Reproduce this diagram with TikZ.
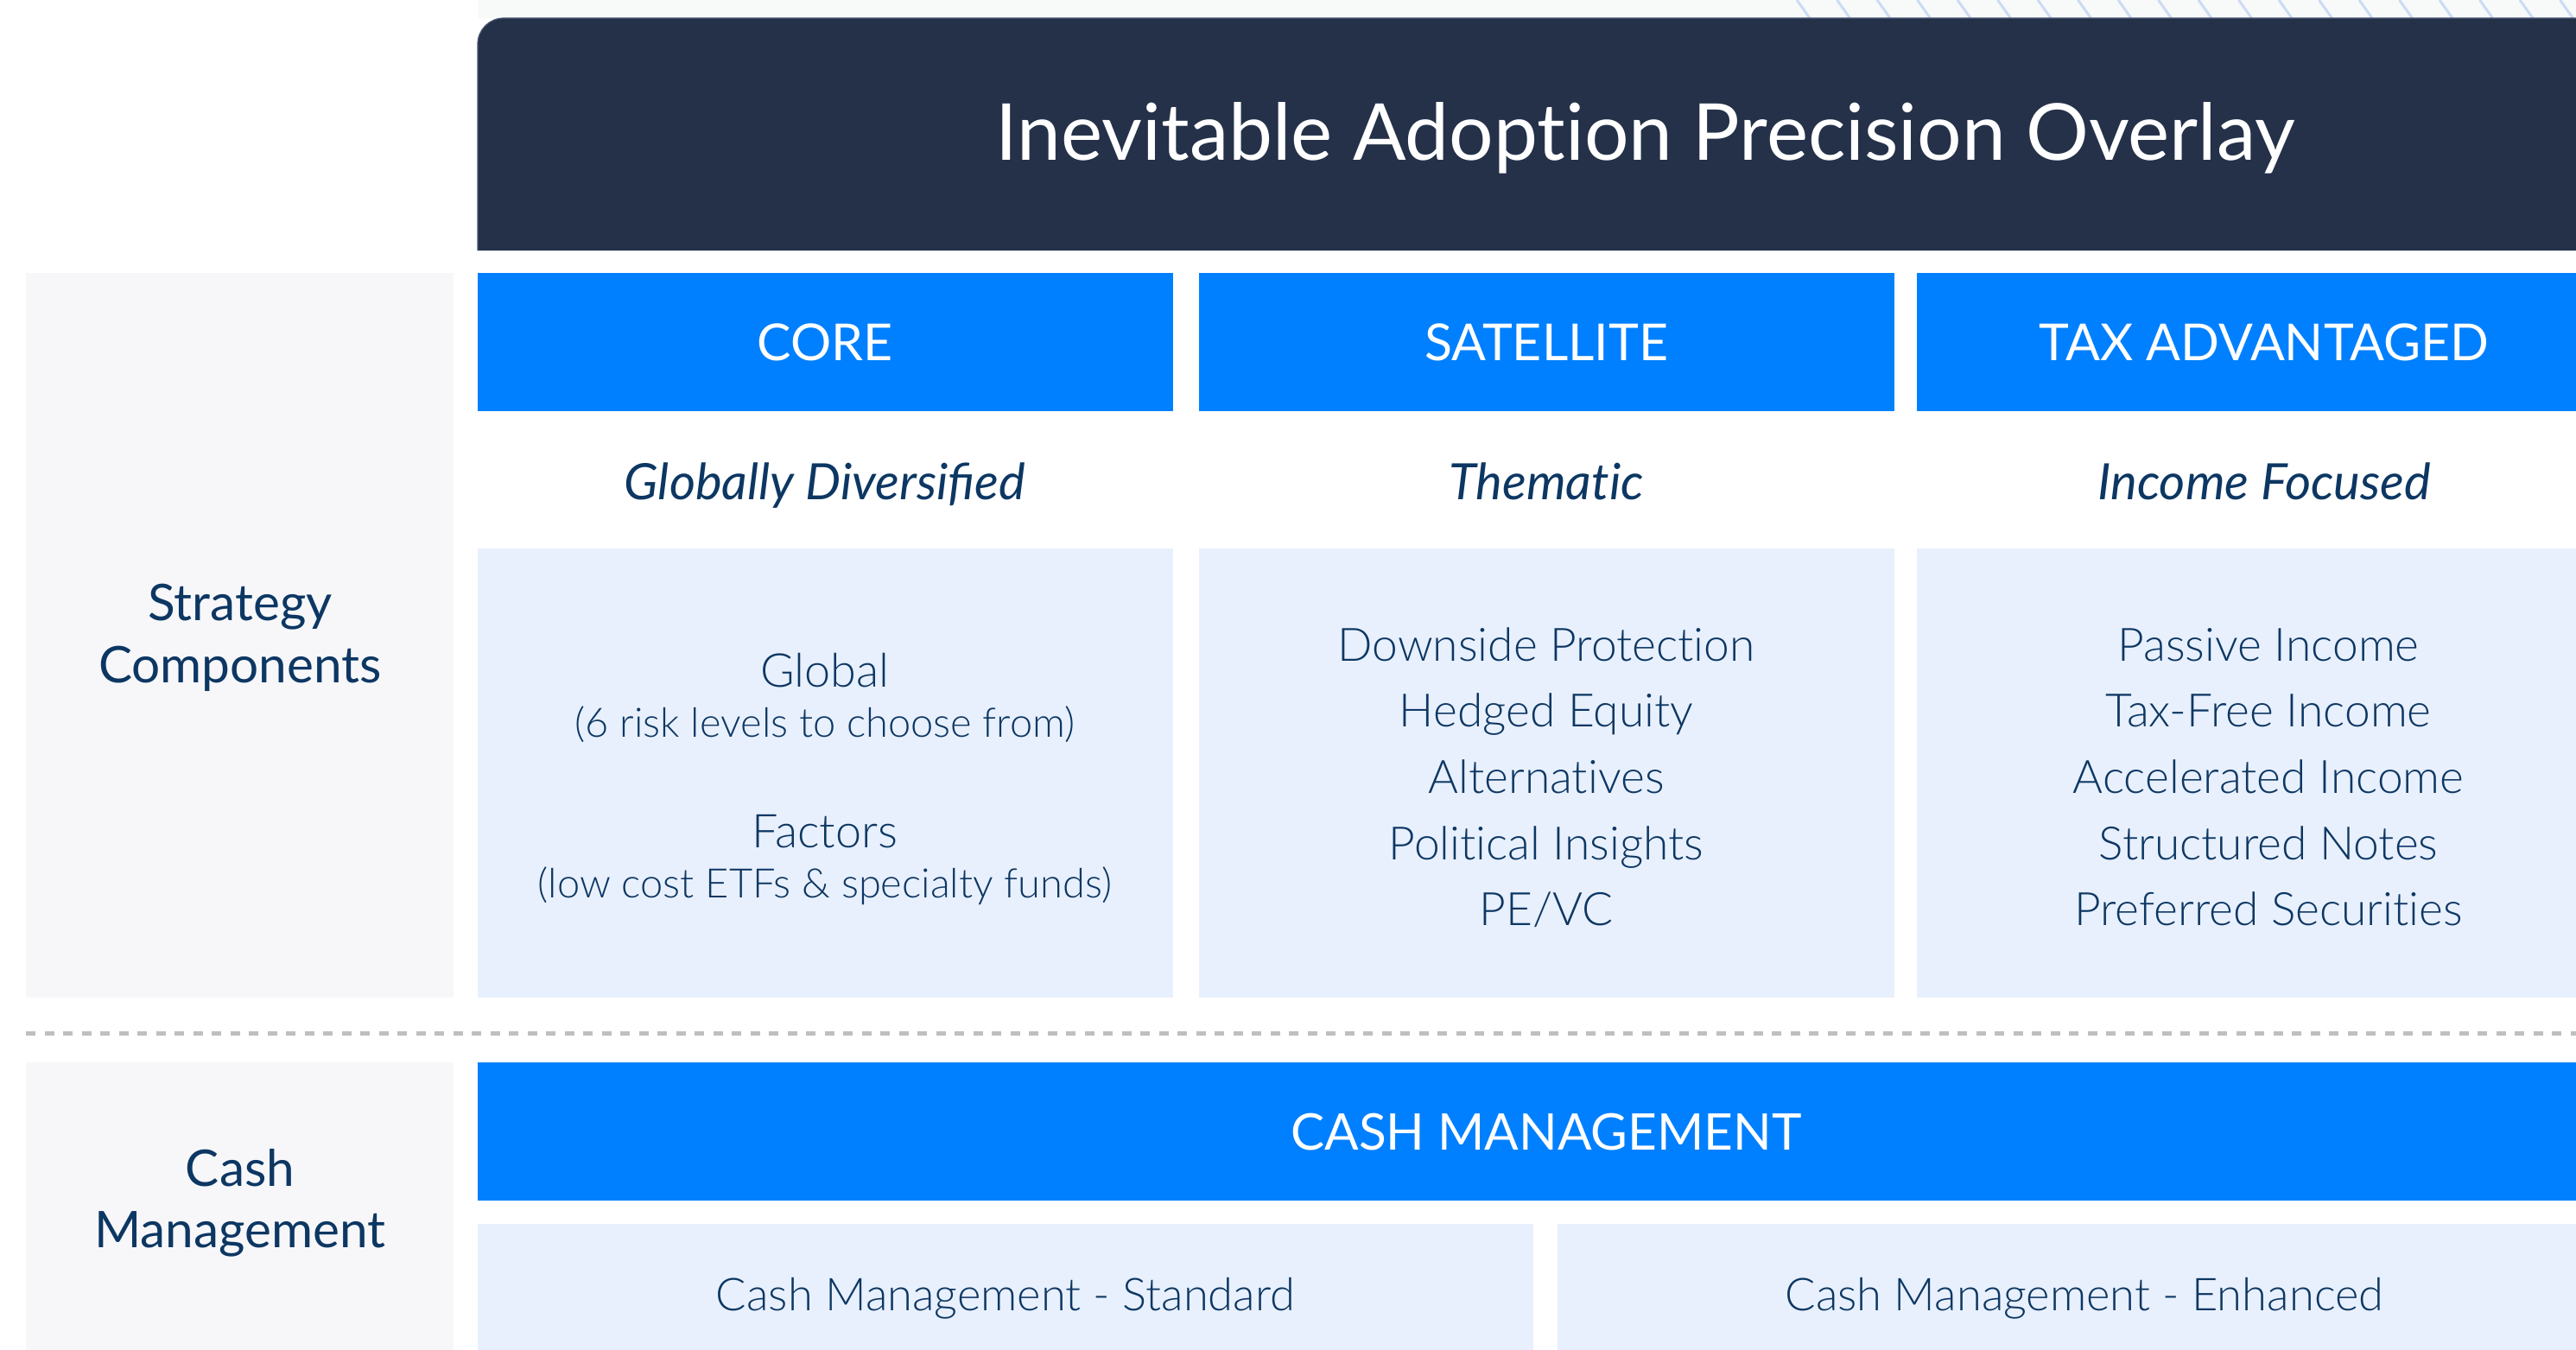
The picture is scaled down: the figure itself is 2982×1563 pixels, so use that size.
\documentclass[tikz,border=0pt]{standalone}
\usepackage{fontspec}
\setmainfont{Lato}[Ligatures=NoCommon]
\newfontfamily\latolight{Lato Light}[Ligatures=NoCommon]
\definecolor{hdr}{HTML}{243149}
\definecolor{hdrline}{HTML}{4A5670}
\definecolor{bblue}{HTML}{0080FF}
\definecolor{lbox}{HTML}{E8F0FD}
\definecolor{lpanel}{HTML}{F7F7FA}
\definecolor{navy}{HTML}{0D3763}
\definecolor{hatchcol}{HTML}{CCDBF2}
\definecolor{stripcol}{HTML}{F8FAFA}
\definecolor{sepgray}{HTML}{BFBFBF}
\tikzset{
  panel/.style={fill=lpanel},
  bluebar/.style={fill=bblue},
  lightbox/.style={fill=lbox},
  txt/.style={inner sep=0pt, anchor=base, text=navy, align=center},
  bluetxt/.style={inner sep=0pt, anchor=base, text=white, font=\fontsize{59}{70}\selectfont},
  subtxt/.style={txt, font=\fontsize{58}{69}\selectfont\itshape},
  bodytxt/.style={txt, font=\latolight\fontsize{53.3}{76.7}\selectfont},
  smalltxt/.style={txt, font=\latolight\fontsize{47}{56}\selectfont},
  sidetxt/.style={txt, font=\fontsize{58.5}{70}\selectfont},
  cashtxt/.style={txt, font=\latolight\fontsize{52.5}{64}\selectfont},
}
\begin{document}
\begin{tikzpicture}[x=1pt,y=-1pt]
\useasboundingbox (0,0) rectangle (2982,1563);
\clip (0,0) rectangle (2982,1563);
\fill[white] (0,0) rectangle (2982,1563);
% top strip with hatching
\fill[stripcol] (553,0) rectangle (2982,21);
\foreach \i in {0,...,20} {
  \draw[hatchcol, line width=3pt] (2080+46.5*\i,0) -- (2095+46.5*\i,21);
}
% header
\fill[hdr] (553,290) -- (553,51) arc[start angle=180, end angle=270, radius=30] -- (2990,21) -- (2990,290) -- cycle;
\draw[hdrline, line width=1.2pt] (553,290) -- (553,51) arc[start angle=180, end angle=270, radius=30] -- (2990,21);
\node[inner sep=0pt, anchor=base, text=white, font=\fontsize{91}{110}\selectfont] (title) at (1905,185) {Inevitable Adoption Precision Overlay};
% left panels
\fill[panel] (30,316) rectangle (525,1155);
\fill[panel] (30,1230) rectangle (525,1570);
\node[sidetxt] (strat1) at (278,718) {Strategy};
\node[sidetxt] (strat2) at (278,790) {Components};
\node[sidetxt] (cash1) at (278,1373) {Cash};
\node[sidetxt] (cash2) at (278,1444) {Management};
% blue column heads
\fill[bluebar] (553,316) rectangle (1358,476);
\fill[bluebar] (1388,316) rectangle (2193,476);
\fill[bluebar] (2219,316) rectangle (3024,476);
\node[bluetxt] (core) at (955,417) {CORE};
\node[bluetxt] (sat) at (1790,417) {SATELLITE};
\node[bluetxt] (tax) at (2621,417) {TAX ADVANTAGED};
% subtitles
\node[subtxt] (sub1) at (955,578) {Globally Diversiﬁed};
\node[subtxt] (sub2) at (1790,578) {Thematic};
\node[subtxt] (sub3) at (2621,578) {Income Focused};
% content boxes
\fill[lightbox] (553,635) rectangle (1358,1155);
\fill[lightbox] (1388,635) rectangle (2193,1155);
\fill[lightbox] (2219,635) rectangle (3024,1155);
\node[txt, font=\latolight\fontsize{54}{64}\selectfont] (glob) at (955,795) {Global};
\node[smalltxt] (globp) at (955,853) {(6 risk levels to choose from)};
\node[txt, font=\latolight\fontsize{54}{64}\selectfont] (fact) at (955,981) {Factors};
\node[smalltxt] (factp) at (955,1039) {(low cost ETFs \& specialty funds)};
\foreach \t [count=\k from 0] in {Downside Protection, Hedged Equity, Alternatives, Political Insights, PE/VC} {
  \node[bodytxt] (s\k) at (1790,765+76.7*\k) {\t};
}
\foreach \t [count=\k from 0] in {Passive Income, Tax-Free Income, Accelerated Income, Structured Notes, Preferred Securities} {
  \node[bodytxt] (t\k) at (2626,765+76.7*\k) {\t};
}
% dashed separator
\coordinate (dl) at (30,1196);
\coordinate (dr) at (2990,1196);
\draw[sepgray, line width=5pt, dash pattern=on 11pt off 10.5pt] (dl) -- (dr);
% cash management
\fill[bluebar] (553,1230) rectangle (3024,1390);
\node[bluetxt, font=\fontsize{58.5}{70}\selectfont] (cashm) at (1790,1331) {CASH MANAGEMENT};
\fill[lightbox] (553,1417) rectangle (1775,1570);
\fill[lightbox] (1803,1417) rectangle (3024,1570);
\node[cashtxt] (std) at (1164,1517) {Cash Management - Standard};
\node[cashtxt] (enh) at (2413,1517) {Cash Management - Enhanced};
\end{tikzpicture}
\end{document}
